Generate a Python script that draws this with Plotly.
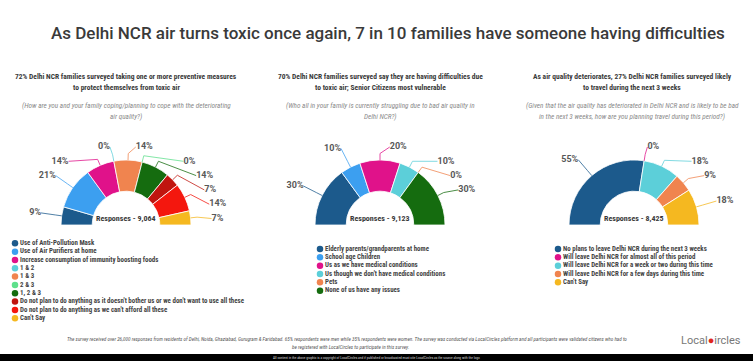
import math
import plotly.graph_objects as go

W, H = 753, 361

title = "As Delhi NCR air turns toxic once again, 7 in 10 families have someone having difficulties"

NAVY = "#1c5a8c"
SKY = "#3c9ff0"
MAGENTA = "#e0128a"
CYAN = "#5ccfd9"
SALMON = "#f0844f"
LGREEN = "#5ee08c"
DGREEN = "#156c0f"
DRED = "#c0150f"
RED = "#f4170e"
YELLOW = "#f5b820"

p1_heading = ["72% Delhi NCR families surveyed taking one or more preventive measures",
              "to protect themselves from toxic air"]
p1_question = ["(How are you and your family coping/planning to cope with the deteriorating",
               "air quality?)"]
p1_labels = ["Use of Anti-Pollution Mask", "Use of Air Purifiers at home",
             "Increase consumption of immunity boosting foods", "1 & 2", "1 & 3", "2 & 3", "1, 2 & 3",
             "Do not plan to do anything as it doesn't bother us or we don't want to use all these",
             "Do not plan to do anything as we can't afford all these", "Can't Say"]
p1_values = [9, 21, 14, 0, 14, 0, 14, 7, 14, 7]
p1_colors = [NAVY, SKY, MAGENTA, CYAN, SALMON, LGREEN, DGREEN, DRED, RED, YELLOW]
p1_responses = "Responses - 9,064"

p2_heading = ["70% Delhi NCR families surveyed say they are having difficulties due",
              "to toxic air; Senior Citizens most vulnerable"]
p2_question = ["(Who all in your family is currently struggling due to bad air quality in",
               "Delhi NCR?)"]
p2_labels = ["Elderly parents/grandparents at home", "School age Children",
             "Us as we have medical conditions", "Us though we don't have medical conditions",
             "Pets", "None of us have any issues"]
p2_values = [30, 10, 20, 10, 0, 30]
p2_colors = [NAVY, SKY, MAGENTA, CYAN, SALMON, DGREEN]
p2_responses = "Responses - 9,123"

p3_heading = ["As air quality deteriorates, 27% Delhi NCR families surveyed likely",
              "to travel during the next 3 weeks"]
p3_question = ["(Given that the air quality has deteriorated in Delhi NCR and is likely to be bad",
               "in the next 3 weeks, how are you planning travel during this period?)"]
p3_labels = ["No plans to leave Delhi NCR during the next 3 weeks",
             "Will leave Delhi NCR for almost all of this period",
             "Will leave Delhi NCR for a week or two during this time",
             "Will leave Delhi NCR for a few days during this time", "Can't Say"]
p3_values = [55, 0, 18, 9, 18]
p3_colors = [NAVY, MAGENTA, CYAN, SALMON, YELLOW]
p3_responses = "Responses - 8,425"

footer_1 = ("The survey received over 26,000 responses from residents of Delhi, Noida, Ghaziabad, Gurugram & Faridabad. "
            "65% respondents were men while 35% respondents were women. The survey was conducted via LocalCircles "
            "platform and all participants were validated citizens who had to")
footer_2 = "be registered with LocalCircles to participate in this survey."
bar_text = ("All content in the above graphic is a copyright of LocalCircles and if published or broadcasted "
            "must cite LocalCircles as the source along with the logo")

# ---------- layout constants ----------
COND = "Liberation Sans Narrow, Arial Narrow, Roboto Condensed, sans-serif"
TXT = "#3a3a3a"
R_PX = 65          # outer radius of donut in px
R_MAX = 1.5        # radial axis range (outer ring at r=1)
HOLE = 0.52
CY = 225
panels = [
    dict(cx=126, heading=p1_heading, question=p1_question, labels=p1_labels, values=p1_values,
         colors=p1_colors, resp=p1_responses, lx=15, ly=243.3),
    dict(cx=380, heading=p2_heading, question=p2_question, labels=p2_labels, values=p2_values,
         colors=p2_colors, resp=p2_responses, lx=320, ly=249),
    dict(cx=634, heading=p3_heading, question=p3_question, labels=p3_labels, values=p3_values,
         colors=p3_colors, resp=p3_responses, lx=558, ly=249),
]
HEAD_X = [126, 380, 632]
LEG_STEP = 8.33


def label_layout(vals, Rl=1.32, gap=0.22, ymax=1.2, ymin=0.08):
    total = float(sum(vals))
    mids, cum = [], 0.0
    for v in vals:
        mids.append((cum + v / 2.0) / total * 180.0)
        cum += v
    pos = {}
    for side in (-1, 1):
        grp = [i for i, m in enumerate(mids) if (m < 90) == (side == -1)]
        if not grp:
            continue
        nat = {i: (-Rl * math.cos(math.radians(mids[i])), Rl * math.sin(math.radians(mids[i]))) for i in grp}
        ys = {i: min(nat[i][1], ymax) for i in grp}
        order = sorted(grp, key=lambda i: -nat[i][1])
        for k in range(1, len(order)):
            a, b = order[k - 1], order[k]
            ys[b] = min(ys[b], ys[a] - gap)
        for k in range(len(order) - 1, -1, -1):
            b = order[k]
            if k == len(order) - 1:
                ys[b] = max(ys[b], ymin)
            else:
                ys[b] = max(ys[b], ys[order[k + 1]] + gap)
        top = order[0]
        for i in grp:
            y = ys[i]
            if i == top and nat[i][1] > ymax:
                x = side * max(abs(nat[i][0]), 0.15)
            else:
                x = side * math.sqrt(max(Rl ** 2 - y ** 2, 0.0))
            pos[i] = (x, y, side)
    return mids, pos


fig = go.Figure()
annotations = []

for k, p in enumerate(panels):
    pid = "polar" if k == 0 else f"polar{k + 1}"
    sub = pid
    vals = p["values"]
    total = float(sum(vals))
    mids, pos = label_layout(vals)
    fig.add_trace(go.Barpolar(
        subplot=sub,
        r=[1 - HOLE] * len(vals), base=[HOLE] * len(vals),
        theta=mids, width=[v / total * 180.0 for v in vals],
        marker=dict(color=p["colors"], line=dict(color="white", width=0.8)),
        hovertext=[f"{l}: {v}%" for l, v in zip(p["labels"], vals)], hoverinfo="text",
        showlegend=False,
    ))
    for i, v in enumerate(vals):
        x, y, side = pos[i]
        rc = math.hypot(x, y)
        tc = 180.0 - math.degrees(math.atan2(y, x))
        fig.add_trace(go.Scatterpolar(
            subplot=sub,
            r=[1.0, 1.1, rc], theta=[mids[i], mids[i], tc],
            mode="lines+text",
            line=dict(color=p["colors"][i], width=0.9),
            opacity=0.85,
            text=["", "", f"{v}%"],
            textposition="middle left" if side < 0 else "middle right",
            textfont=dict(family="Roboto", size=9, color=TXT, weight="bold"),
            cliponaxis=False, showlegend=False, hoverinfo="skip",
        ))
    d = R_PX * R_MAX
    fig.update_layout({pid: dict(
        domain=dict(x=[(p["cx"] - d) / W, (p["cx"] + d) / W], y=[(H - CY) / H, (H - CY + d) / H]),
        sector=[0, 180], hole=0, bgcolor="rgba(0,0,0,0)",
        radialaxis=dict(range=[0, R_MAX], visible=False),
        angularaxis=dict(rotation=180, direction="clockwise", visible=False, thetaunit="degrees"),
    )})
    # legend drawn as a scatter on the canvas axes
    n = len(p["labels"])
    fig.add_trace(go.Scatter(
        x=[p["lx"]] * n, y=[p["ly"] + j * LEG_STEP for j in range(n)],
        mode="markers+text", text=p["labels"], textposition="middle right",
        marker=dict(color=p["colors"], size=6.5),
        textfont=dict(family=COND, size=6.9, color="#444444", weight="bold"),
        xaxis="x", yaxis="y", showlegend=False, hoverinfo="skip", cliponaxis=False,
    ))
    # texts
    hx = HEAD_X[k]
    for j, line in enumerate(p["heading"]):
        annotations.append(dict(x=hx, y=76 + j * 11, xref="x", yref="y", text=line, showarrow=False,
                                font=dict(family=COND, size=7.5, color=TXT, weight="bold")))
    for j, line in enumerate(p["question"]):
        annotations.append(dict(x=hx, y=105 + j * 11, xref="x", yref="y", text=f"<i>{line}</i>",
                                showarrow=False, font=dict(family=COND, size=7.2, color="#8a8a8a")))
    annotations.append(dict(x=p["cx"], y=CY, xref="x", yref="y", yanchor="bottom", text=p["resp"],
                            showarrow=False, font=dict(family=COND, size=8, color=TXT, weight="bold")))

annotations.append(dict(x=388, y=33, xref="x", yref="y", text=title, showarrow=False,
                        font=dict(family="Roboto", size=17, color=TXT, weight=500)))
annotations.append(dict(x=347, y=339, xref="x", yref="y", text=f"<i>{footer_1}</i>", showarrow=False,
                        font=dict(family=COND, size=5.2, color="#555555")))
annotations.append(dict(x=350, y=347, xref="x", yref="y", text=f"<i>{footer_2}</i>", showarrow=False,
                        font=dict(family=COND, size=5.2, color="#555555")))
annotations.append(dict(x=376, y=357.5, xref="x", yref="y", text=bar_text, showarrow=False,
                        font=dict(family=COND, size=3.5, color="#dddddd")))
annotations.append(dict(x=711, y=340, xref="x", yref="y",
                        text="Local<span style='color:#e0261d'>●</span>ircles", showarrow=False,
                        font=dict(family="Roboto", size=11, color="#777777")))

fig.update_layout(
    width=W, height=H, margin=dict(l=0, r=0, t=0, b=0),
    paper_bgcolor="white", plot_bgcolor="white",
    xaxis=dict(range=[0, W], domain=[0, 1], visible=False, fixedrange=True),
    yaxis=dict(range=[H, 0], domain=[0, 1], visible=False, fixedrange=True),
    annotations=annotations,
    shapes=[dict(type="rect", xref="paper", yref="paper", x0=0, x1=1, y0=0, y1=(H - 354) / H,
                 fillcolor="black", line=dict(width=0), layer="below")],
    showlegend=False,
)

fig.write_html("out.html", config={"displayModeBar": False},
               post_script="document.body.style.margin='0px';")
